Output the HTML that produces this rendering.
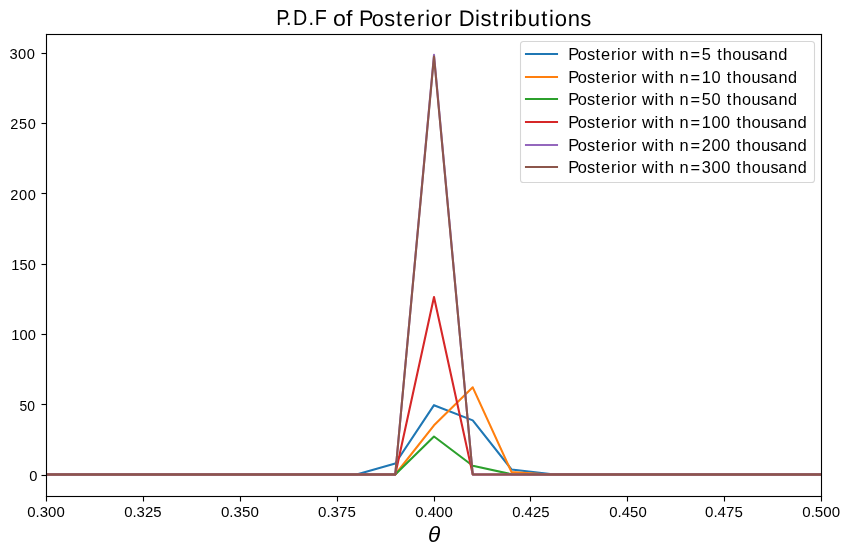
<!DOCTYPE html><html><head><meta charset="utf-8"><style>html,body{margin:0;padding:0;background:#fff;width:851px;height:555px;overflow:hidden}svg{display:block}text{font-family:"Liberation Sans",sans-serif;fill:#000}svg{will-change:transform}</style></head><body>
<svg width="851" height="555" viewBox="0 0 851 555">
<rect x="0" y="0" width="851" height="555" fill="#fff"/>
<defs><clipPath id="ax"><rect x="46.50" y="34.50" width="775.00" height="462.00"/></clipPath></defs>
<g clip-path="url(#ax)" fill="none" stroke-width="2.083" stroke-linejoin="round" stroke-linecap="square">
<polyline stroke="#1f77b4" points="46.50,474.50 85.25,474.50 124.00,474.50 162.75,474.50 201.50,474.50 240.25,474.50 279.00,474.50 317.75,474.50 356.50,474.50 395.25,463.53 434.00,405.18 472.75,420.37 511.50,469.44 550.25,474.08 589.00,474.50 627.75,474.50 666.50,474.50 705.25,474.50 744.00,474.50 782.75,474.50 821.50,474.50"/>
<polyline stroke="#ff7f0e" points="46.50,474.50 85.25,474.50 124.00,474.50 162.75,474.50 201.50,474.50 240.25,474.50 279.00,474.50 317.75,474.50 356.50,474.50 395.25,474.50 434.00,425.29 472.75,387.33 511.50,471.97 550.25,474.43 589.00,474.50 627.75,474.50 666.50,474.50 705.25,474.50 744.00,474.50 782.75,474.50 821.50,474.50"/>
<polyline stroke="#2ca02c" points="46.50,474.50 85.25,474.50 124.00,474.50 162.75,474.50 201.50,474.50 240.25,474.50 279.00,474.50 317.75,474.50 356.50,474.50 395.25,474.50 434.00,436.54 472.75,465.78 511.50,474.22 550.25,474.50 589.00,474.50 627.75,474.50 666.50,474.50 705.25,474.50 744.00,474.50 782.75,474.50 821.50,474.50"/>
<polyline stroke="#d62728" points="46.50,474.50 85.25,474.50 124.00,474.50 162.75,474.50 201.50,474.50 240.25,474.50 279.00,474.50 317.75,474.50 356.50,474.50 395.25,474.50 434.00,297.06 472.75,474.50 511.50,474.50 550.25,474.50 589.00,474.50 627.75,474.50 666.50,474.50 705.25,474.50 744.00,474.50 782.75,474.50 821.50,474.50"/>
<polyline stroke="#9467bd" points="46.50,474.50 85.25,474.50 124.00,474.50 162.75,474.50 201.50,474.50 240.25,474.50 279.00,474.50 317.75,474.50 356.50,474.50 395.25,474.50 434.00,54.81 472.75,474.50 511.50,474.50 550.25,474.50 589.00,474.50 627.75,474.50 666.50,474.50 705.25,474.50 744.00,474.50 782.75,474.50 821.50,474.50"/>
<polyline stroke="#8c564b" points="46.50,474.50 85.25,474.50 124.00,474.50 162.75,474.50 201.50,474.50 240.25,474.50 279.00,474.50 317.75,474.50 356.50,474.50 395.25,474.50 434.00,56.64 472.75,474.50 511.50,474.50 550.25,474.50 589.00,474.50 627.75,474.50 666.50,474.50 705.25,474.50 744.00,474.50 782.75,474.50 821.50,474.50"/>
</g>
<g fill="#000">
<rect x="45.944" y="33.944" width="776.111" height="1.111"/>
<rect x="45.944" y="495.945" width="776.111" height="1.111"/>
<rect x="45.944" y="33.944" width="1.111" height="463.111"/>
<rect x="820.944" y="33.944" width="1.111" height="463.111"/>
<rect x="45.944" y="496.500" width="1.111" height="5.000"/>
<rect x="142.945" y="496.500" width="1.111" height="5.000"/>
<rect x="239.945" y="496.500" width="1.111" height="5.000"/>
<rect x="336.945" y="496.500" width="1.111" height="5.000"/>
<rect x="433.945" y="496.500" width="1.111" height="5.000"/>
<rect x="529.944" y="496.500" width="1.111" height="5.000"/>
<rect x="626.944" y="496.500" width="1.111" height="5.000"/>
<rect x="723.944" y="496.500" width="1.111" height="5.000"/>
<rect x="820.944" y="496.500" width="1.111" height="5.000"/>
<rect x="41.500" y="474.945" width="5.000" height="1.111"/>
<rect x="41.500" y="403.945" width="5.000" height="1.111"/>
<rect x="41.500" y="333.945" width="5.000" height="1.111"/>
<rect x="41.500" y="263.945" width="5.000" height="1.111"/>
<rect x="41.500" y="192.945" width="5.000" height="1.111"/>
<rect x="41.500" y="122.945" width="5.000" height="1.111"/>
<rect x="41.500" y="52.944" width="5.000" height="1.111"/>
</g>
<rect x="520.50" y="41.50" width="294.00" height="141.00" rx="3.06" ry="3.06" fill="#fff" fill-opacity="0.8" stroke="#cccccc" stroke-opacity="0.8" stroke-width="1.111"/>
<path d="M526 54.00H557" stroke="#1f77b4" stroke-width="2.083" stroke-linecap="square" fill="none"/>
<path d="M526 77.00H557" stroke="#ff7f0e" stroke-width="2.083" stroke-linecap="square" fill="none"/>
<path d="M526 99.00H557" stroke="#2ca02c" stroke-width="2.083" stroke-linecap="square" fill="none"/>
<path d="M526 122.00H557" stroke="#d62728" stroke-width="2.083" stroke-linecap="square" fill="none"/>
<path d="M526 145.00H557" stroke="#9467bd" stroke-width="2.083" stroke-linecap="square" fill="none"/>
<path d="M526 167.00H557" stroke="#8c564b" stroke-width="2.083" stroke-linecap="square" fill="none"/>
<text x="276.27 286.95 294.65 311.76 318.37" y="25" font-size="21.669" transform="matrix(0.9117 0 0 1 24.379 0)" text-rendering="geometricPrecision">P.D.F</text>
<text x="333.110" y="26" font-size="21.868" textLength="19.326" lengthAdjust="spacingAndGlyphs">of</text>
<text x="359.02 372.14 385.10 397.23 405.00 418.97 427.28 433.19 447.11" y="26" font-size="22.419" transform="matrix(0.9685 0 0 1 11.333 0)" text-rendering="geometricPrecision">Posterior</text>
<text x="458.73 475.34 480.91 492.87 501.16 509.35 515.48 528.74 542.61 550.34 556.10 569.32 582.18" y="26" font-size="22.363" transform="matrix(0.9850 0 0 1 6.880 0)" text-rendering="geometricPrecision">Distributions</text>
<text x="427.896" y="542" font-size="21.368" textLength="12.257" lengthAdjust="spacingAndGlyphs" font-style="italic">θ</text>
<text x="29.380" y="481" font-size="14.263" textLength="8.176" lengthAdjust="spacingAndGlyphs">0</text>
<text x="19.596" y="411" font-size="14.290" textLength="15.441" lengthAdjust="spacingAndGlyphs">50</text>
<text x="11.304" y="340" font-size="14.525" textLength="24.495" lengthAdjust="spacingAndGlyphs">100</text>
<text x="11.381" y="270" font-size="14.380" textLength="24.380" lengthAdjust="spacingAndGlyphs">150</text>
<text x="10.15 19.00 27.68" y="200" font-size="14.502" transform="matrix(1.0086 0 0 1 -0.086 0)" text-rendering="geometricPrecision">200</text>
<text x="10.18 19.05 27.85" y="129" font-size="14.502" transform="matrix(1.0006 0 0 1 -0.006 0)">250</text>
<text x="9.38 17.99 26.62" y="59" font-size="14.535" transform="matrix(1.0136 0 0 1 -0.123 0)">300</text>
<text x="27.310" y="517" font-size="14.254" textLength="37.411" lengthAdjust="spacingAndGlyphs">0.300</text>
<text x="124.180" y="517" font-size="14.560" textLength="37.303" lengthAdjust="spacingAndGlyphs">0.325</text>
<text x="220.926" y="517" font-size="14.290" textLength="37.897" lengthAdjust="spacingAndGlyphs">0.350</text>
<text x="318.018" y="517" font-size="14.246" textLength="37.783" lengthAdjust="spacingAndGlyphs">0.375</text>
<text x="415.310" y="517" font-size="14.518" textLength="37.411" lengthAdjust="spacingAndGlyphs" text-rendering="geometricPrecision">0.400</text>
<text x="512.150" y="517" font-size="14.440" textLength="37.357" lengthAdjust="spacingAndGlyphs" text-rendering="geometricPrecision">0.425</text>
<text x="609.310" y="517" font-size="14.504" textLength="37.411" lengthAdjust="spacingAndGlyphs" text-rendering="geometricPrecision">0.450</text>
<text x="705.004" y="517" font-size="14.737" textLength="37.786" lengthAdjust="spacingAndGlyphs" text-rendering="geometricPrecision">0.475</text>
<text x="802.310" y="517" font-size="13.971" textLength="37.750" lengthAdjust="spacingAndGlyphs">0.500</text>
<text x="568.17 577.68 586.96 595.68 601.18 611.24 617.25 621.32 631.31" y="60" font-size="16.494" transform="matrix(0.9969 0 0 1 1.758 0)">Posterior</text>
<text x="641.93 654.09 658.54 663.92" y="60" font-size="16.211" transform="matrix(1.0350 0 0 1 -22.462 0)">with</text>
<text x="679.52 690.03 700.98" y="60" font-size="15.773" transform="matrix(1.0390 0 0 1 -26.489 0)">n=5</text>
<text x="717.18 722.96 732.71 742.52 752.18 759.96 770.43 780.24" y="60" font-size="16.959" transform="matrix(0.9696 0 0 1 21.781 0)">thousand</text>
<text x="568.17 577.68 586.96 595.68 601.18 611.24 617.25 621.32 631.31" y="83" font-size="16.494" transform="matrix(0.9969 0 0 1 1.758 0)">Posterior</text>
<text x="641.93 654.09 658.54 663.92" y="83" font-size="16.211" transform="matrix(1.0350 0 0 1 -22.462 0)">with</text>
<text x="679.45 689.83 700.60 709.83" y="83" font-size="15.586" transform="matrix(1.0530 0 0 1 -35.995 0)">n=10</text>
<text x="726.91 732.72 742.45 752.23 761.87 769.65 780.09 789.88" y="83" font-size="16.700" transform="matrix(0.9714 0 0 1 20.762 0)">thousand</text>
<text x="568.17 577.68 586.96 595.68 601.18 611.24 617.25 621.32 631.31" y="105" font-size="16.494" transform="matrix(0.9969 0 0 1 1.758 0)">Posterior</text>
<text x="641.93 654.09 658.54 663.92" y="105" font-size="16.211" transform="matrix(1.0350 0 0 1 -22.462 0)">with</text>
<text x="679.48 690.87 702.73 712.82" y="105" font-size="17.078" transform="matrix(0.9592 0 0 1 27.723 0)">n=50</text>
<text x="726.91 732.72 742.45 752.23 761.87 769.65 780.09 789.88" y="105" font-size="16.700" transform="matrix(0.9714 0 0 1 20.762 0)">thousand</text>
<text x="568.17 577.68 586.96 595.68 601.18 611.24 617.25 621.32 631.31" y="128" font-size="16.494" transform="matrix(0.9969 0 0 1 1.758 0)">Posterior</text>
<text x="641.93 654.09 658.54 663.92" y="128" font-size="16.211" transform="matrix(1.0350 0 0 1 -22.462 0)">with</text>
<text x="679.53 690.50 701.89 711.64 721.30" y="128" font-size="16.471" transform="matrix(0.9960 0 0 1 2.717 0)">n=100</text>
<text x="736.43 741.98 751.36 760.80 770.11 777.60 787.68 797.13" y="128" font-size="16.499" transform="matrix(1.0070 0 0 1 -5.151 0)">thousand</text>
<text x="568.17 577.68 586.96 595.68 601.18 611.24 617.25 621.32 631.31" y="151" font-size="16.494" transform="matrix(0.9969 0 0 1 1.758 0)">Posterior</text>
<text x="641.93 654.09 658.54 663.92" y="151" font-size="16.211" transform="matrix(1.0350 0 0 1 -22.462 0)">with</text>
<text x="679.52 690.49 701.76 711.62 721.28" y="151" font-size="16.465" transform="matrix(0.9964 0 0 1 2.418 0)">n=200</text>
<text x="736.43 741.98 751.36 760.80 770.11 777.60 787.68 797.13" y="151" font-size="16.499" transform="matrix(1.0070 0 0 1 -5.151 0)">thousand</text>
<text x="568.17 577.68 586.96 595.68 601.18 611.24 617.25 621.32 631.31" y="173" font-size="16.494" transform="matrix(0.9969 0 0 1 1.758 0)">Posterior</text>
<text x="641.93 654.09 658.54 663.92" y="173" font-size="16.211" transform="matrix(1.0350 0 0 1 -22.462 0)">with</text>
<text x="679.51 690.13 701.25 710.70 720.05" y="173" font-size="15.953" transform="matrix(1.0294 0 0 1 -19.996 0)">n=300</text>
<text x="736.62 742.46 752.22 762.05 771.72 779.53 790.01 799.84" y="173" font-size="16.703" transform="matrix(0.9678 0 0 1 23.725 0)">thousand</text>
</svg></body></html>
